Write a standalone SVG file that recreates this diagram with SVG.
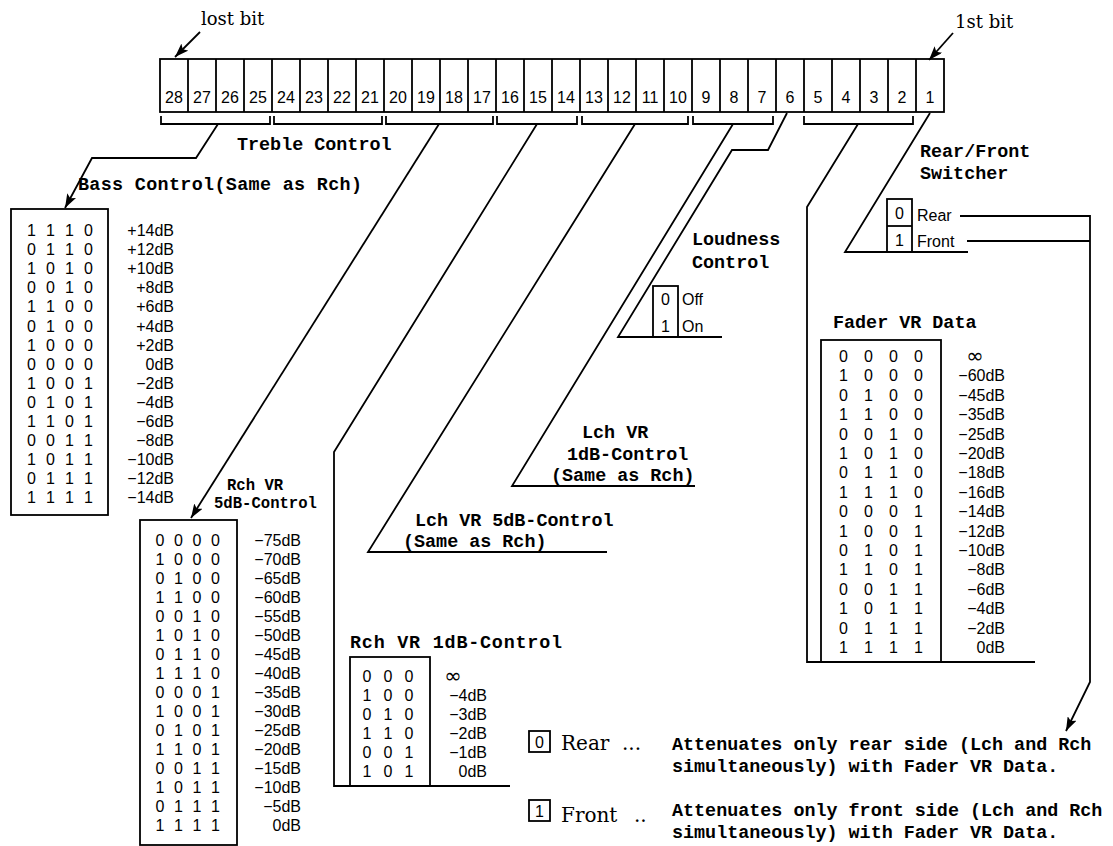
<svg xmlns="http://www.w3.org/2000/svg" width="1113" height="846" viewBox="0 0 1113 846">
<style>
.ln{stroke:#000;stroke-width:1.8;fill:none}
.bx{stroke:#000;stroke-width:1.8;fill:none}
.mono{font-family:"Liberation Mono","Courier New",monospace;font-size:18.4px;font-weight:bold;fill:#000}
.mono2{font-family:"Liberation Mono","Courier New",monospace;font-size:15.6px;font-weight:bold;fill:#000}
.sans{font-family:"Liberation Sans",Arial,sans-serif;font-size:16px;fill:#000}
.dg{font-family:"Liberation Sans",Arial,sans-serif;font-size:16px;fill:#000;text-anchor:middle}
.inf{font-family:"DejaVu Sans",sans-serif;font-size:21px;fill:#000;text-anchor:middle}
.val{font-family:"Liberation Sans",Arial,sans-serif;font-size:16px;fill:#000;text-anchor:end}
.serif{font-family:"DejaVu Serif","Liberation Serif",serif;font-size:18px;fill:#000}
.serif2{font-family:"DejaVu Serif","Liberation Serif",serif;font-size:20px;fill:#000}
</style>
<defs>
<marker id="ah" viewBox="0 0 14 10" refX="14" refY="5" markerWidth="14" markerHeight="10" orient="auto" markerUnits="userSpaceOnUse"><path d="M0,0 L14,5 L0,10 L3,5 z" fill="#000"/></marker>
</defs>
<rect width="1113" height="846" fill="#fff"/>

<g id="register">
<rect class="bx" x="160" y="59" width="784" height="53"/>
<path class="ln" d="M188,59V112M216,59V112M244,59V112M272,59V112M300,59V112M328,59V112M356,59V112M384,59V112M412,59V112M440,59V112M468,59V112M496,59V112M524,59V112M552,59V112M580,59V112M608,59V112M636,59V112M664,59V112M692,59V112M720,59V112M748,59V112M776,59V112M804,59V112M832,59V112M860,59V112M888,59V112M916,59V112"/>
<g class="dg">
<text x="174" y="103">28</text><text x="202" y="103">27</text><text x="230" y="103">26</text><text x="258" y="103">25</text>
<text x="286" y="103">24</text><text x="314" y="103">23</text><text x="342" y="103">22</text><text x="370" y="103">21</text>
<text x="398" y="103">20</text><text x="426" y="103">19</text><text x="454" y="103">18</text><text x="482" y="103">17</text>
<text x="510" y="103">16</text><text x="538" y="103">15</text><text x="566" y="103">14</text><text x="594" y="103">13</text>
<text x="622" y="103">12</text><text x="650" y="103">11</text><text x="678" y="103">10</text><text x="706" y="103">9</text>
<text x="734" y="103">8</text><text x="762" y="103">7</text><text x="790" y="103">6</text><text x="818" y="103">5</text>
<text x="846" y="103">4</text><text x="874" y="103">3</text><text x="902" y="103">2</text><text x="930" y="103">1</text>
</g>
<path class="ln" d="M161,116V124H270V116M274,116V124H382V116M386,116V124H493V116M497,116V124H577V116M582,116V124H688V116M693,116V124H773V116M804,116V124H913V116"/>
</g>

<g id="lost-bit">
<text class="serif" x="201" y="25">lost bit</text>
</g>
<g id="first-bit">
<text class="serif" x="955" y="28">1st bit</text>
</g>
<g id="treble-label">
<text class="mono" x="237" y="150">Treble Control</text>
</g>

<g id="connectors">
<path class="ln" d="M200,32L175,57" marker-end="url(#ah)"/>
<path class="ln" d="M953,33L929,60" marker-end="url(#ah)"/>
<path class="ln" d="M218,124L196,158H92L65,208" marker-end="url(#ah)"/>
<path class="ln" d="M439,124L191,518" marker-end="url(#ah)"/>
<path class="ln" d="M537,124L334,452V786H510"/>
<path class="ln" d="M635,124L368,552H607"/>
<path class="ln" d="M733,124L512,486H695"/>
<path class="ln" d="M787,113L768,150H732L618,337H722"/>
<path class="ln" d="M858,124L807,207V662H1035"/>
<path class="ln" d="M930,113L845,252H968"/>
<path class="ln" d="M960,216H1090V682L1066,731" marker-end="url(#ah)"/>
<path class="ln" d="M967,241H1090"/>
</g>

<g id="bass-control">
<text class="mono" x="78" y="190" textLength="284" lengthAdjust="spacing">Bass Control(Same as Rch)</text>
<rect class="bx" x="11" y="209" width="97" height="306"/>
<g class="dg">
<text x="31.5 41 50.5 60 69.5 79 88.5" y="236">1 1 1 0</text>
<text x="31.5 41 50.5 60 69.5 79 88.5" y="255.1">0 1 1 0</text>
<text x="31.5 41 50.5 60 69.5 79 88.5" y="274.2">1 0 1 0</text>
<text x="31.5 41 50.5 60 69.5 79 88.5" y="293.3">0 0 1 0</text>
<text x="31.5 41 50.5 60 69.5 79 88.5" y="312.4">1 1 0 0</text>
<text x="31.5 41 50.5 60 69.5 79 88.5" y="331.5">0 1 0 0</text>
<text x="31.5 41 50.5 60 69.5 79 88.5" y="350.6">1 0 0 0</text>
<text x="31.5 41 50.5 60 69.5 79 88.5" y="369.7">0 0 0 0</text>
<text x="31.5 41 50.5 60 69.5 79 88.5" y="388.8">1 0 0 1</text>
<text x="31.5 41 50.5 60 69.5 79 88.5" y="407.9">0 1 0 1</text>
<text x="31.5 41 50.5 60 69.5 79 88.5" y="427">1 1 0 1</text>
<text x="31.5 41 50.5 60 69.5 79 88.5" y="446.1">0 0 1 1</text>
<text x="31.5 41 50.5 60 69.5 79 88.5" y="465.2">1 0 1 1</text>
<text x="31.5 41 50.5 60 69.5 79 88.5" y="484.3">0 1 1 1</text>
<text x="31.5 41 50.5 60 69.5 79 88.5" y="503.4">1 1 1 1</text>
</g>
<g class="val">
<text x="174" y="236">+14dB</text><text x="174" y="255.1">+12dB</text><text x="174" y="274.2">+10dB</text>
<text x="174" y="293.3">+8dB</text><text x="174" y="312.4">+6dB</text><text x="174" y="331.5">+4dB</text>
<text x="174" y="350.6">+2dB</text><text x="174" y="369.7">0dB</text><text x="174" y="388.8">−2dB</text>
<text x="174" y="407.9">−4dB</text><text x="174" y="427">−6dB</text><text x="174" y="446.1">−8dB</text>
<text x="174" y="465.2">−10dB</text><text x="174" y="484.3">−12dB</text><text x="174" y="503.4">−14dB</text>
</g>
</g>

<g id="rch-5db">
<text class="mono2" x="227" y="490">Rch VR</text>
<text class="mono2" x="214" y="508">5dB-Control</text>
<rect class="bx" x="140" y="520" width="97" height="325"/>
<g class="dg">
<text x="160 169.25 178.5 187.75 197 206.25 215.5" y="546">0 0 0 0</text>
<text x="160 169.25 178.5 187.75 197 206.25 215.5" y="565">1 0 0 0</text>
<text x="160 169.25 178.5 187.75 197 206.25 215.5" y="584">0 1 0 0</text>
<text x="160 169.25 178.5 187.75 197 206.25 215.5" y="603">1 1 0 0</text>
<text x="160 169.25 178.5 187.75 197 206.25 215.5" y="622">0 0 1 0</text>
<text x="160 169.25 178.5 187.75 197 206.25 215.5" y="641">1 0 1 0</text>
<text x="160 169.25 178.5 187.75 197 206.25 215.5" y="660">0 1 1 0</text>
<text x="160 169.25 178.5 187.75 197 206.25 215.5" y="679">1 1 1 0</text>
<text x="160 169.25 178.5 187.75 197 206.25 215.5" y="698">0 0 0 1</text>
<text x="160 169.25 178.5 187.75 197 206.25 215.5" y="717">1 0 0 1</text>
<text x="160 169.25 178.5 187.75 197 206.25 215.5" y="736">0 1 0 1</text>
<text x="160 169.25 178.5 187.75 197 206.25 215.5" y="755">1 1 0 1</text>
<text x="160 169.25 178.5 187.75 197 206.25 215.5" y="774">0 0 1 1</text>
<text x="160 169.25 178.5 187.75 197 206.25 215.5" y="793">1 0 1 1</text>
<text x="160 169.25 178.5 187.75 197 206.25 215.5" y="812">0 1 1 1</text>
<text x="160 169.25 178.5 187.75 197 206.25 215.5" y="831">1 1 1 1</text>
</g>
<g class="val">
<text x="301" y="546">−75dB</text><text x="301" y="565">−70dB</text><text x="301" y="584">−65dB</text>
<text x="301" y="603">−60dB</text><text x="301" y="622">−55dB</text><text x="301" y="641">−50dB</text>
<text x="301" y="660">−45dB</text><text x="301" y="679">−40dB</text><text x="301" y="698">−35dB</text>
<text x="301" y="717">−30dB</text><text x="301" y="736">−25dB</text><text x="301" y="755">−20dB</text>
<text x="301" y="774">−15dB</text><text x="301" y="793">−10dB</text><text x="301" y="812">−5dB</text>
<text x="301" y="831">0dB</text>
</g>
</g>

<g id="lch-5db">
<text class="mono" x="415" y="526">Lch VR 5dB-Control</text>
<text class="mono" x="403" y="547">(Same as Rch)</text>
</g>

<g id="lch-1db">
<text class="mono" x="582" y="438">Lch VR</text>
<text class="mono" x="567" y="460">1dB-Control</text>
<text class="mono" x="551" y="481">(Same as Rch)</text>
</g>

<g id="loudness">
<text class="mono" x="692" y="245">Loudness</text>
<text class="mono" x="692" y="268">Control</text>
<rect class="bx" x="653" y="286" width="25" height="51"/>
<text class="dg" x="665.5" y="305">0</text>
<text class="dg" x="665.5" y="332">1</text>
<text class="sans" x="682" y="305">Off</text>
<text class="sans" x="682" y="332">On</text>
</g>

<g id="rch-1db">
<text class="mono" x="350" y="648" textLength="212" lengthAdjust="spacing">Rch VR 1dB-Control</text>
<rect class="bx" x="350" y="657" width="80" height="129"/>
<g class="dg">
<text x="367 377.5 388 398.5 409" y="682">0 0 0</text>
<text x="367 377.5 388 398.5 409" y="701">1 0 0</text>
<text x="367 377.5 388 398.5 409" y="720">0 1 0</text>
<text x="367 377.5 388 398.5 409" y="739">1 1 0</text>
<text x="367 377.5 388 398.5 409" y="758">0 0 1</text>
<text x="367 377.5 388 398.5 409" y="777">1 0 1</text>
</g>
<text class="inf" x="453" y="683">∞</text>
<g class="val">
<text x="487" y="701">−4dB</text><text x="487" y="720">−3dB</text><text x="487" y="739">−2dB</text>
<text x="487" y="758">−1dB</text><text x="487" y="777">0dB</text>
</g>
</g>

<g id="rear-front-switcher">
<text class="mono" x="920" y="157">Rear/Front</text>
<text class="mono" x="920" y="179">Switcher</text>
<rect class="bx" x="887" y="199" width="25" height="53"/>
<path class="ln" d="M887,226H912"/>
<text class="dg" x="899.5" y="219">0</text>
<text class="dg" x="899.5" y="246">1</text>
<text class="sans" x="917" y="221">Rear</text>
<text class="sans" x="917" y="247">Front</text>
</g>

<g id="fader">
<text class="mono" x="833" y="328">Fader VR Data</text>
<rect class="bx" x="821" y="340" width="120" height="322"/>
<g class="dg">
<text x="843.5 856 868.5 881 893.5 906 918.5" y="362">0 0 0 0</text>
<text x="843.5 856 868.5 881 893.5 906 918.5" y="381.4">1 0 0 0</text>
<text x="843.5 856 868.5 881 893.5 906 918.5" y="400.8">0 1 0 0</text>
<text x="843.5 856 868.5 881 893.5 906 918.5" y="420.2">1 1 0 0</text>
<text x="843.5 856 868.5 881 893.5 906 918.5" y="439.6">0 0 1 0</text>
<text x="843.5 856 868.5 881 893.5 906 918.5" y="459">1 0 1 0</text>
<text x="843.5 856 868.5 881 893.5 906 918.5" y="478.4">0 1 1 0</text>
<text x="843.5 856 868.5 881 893.5 906 918.5" y="497.8">1 1 1 0</text>
<text x="843.5 856 868.5 881 893.5 906 918.5" y="517.2">0 0 0 1</text>
<text x="843.5 856 868.5 881 893.5 906 918.5" y="536.6">1 0 0 1</text>
<text x="843.5 856 868.5 881 893.5 906 918.5" y="556">0 1 0 1</text>
<text x="843.5 856 868.5 881 893.5 906 918.5" y="575.4">1 1 0 1</text>
<text x="843.5 856 868.5 881 893.5 906 918.5" y="594.8">0 0 1 1</text>
<text x="843.5 856 868.5 881 893.5 906 918.5" y="614.2">1 0 1 1</text>
<text x="843.5 856 868.5 881 893.5 906 918.5" y="633.6">0 1 1 1</text>
<text x="843.5 856 868.5 881 893.5 906 918.5" y="653">1 1 1 1</text>
</g>
<text class="inf" x="975" y="363">∞</text>
<g class="val">
<text x="1005" y="381.4">−60dB</text><text x="1005" y="400.8">−45dB</text><text x="1005" y="420.2">−35dB</text>
<text x="1005" y="439.6">−25dB</text><text x="1005" y="459">−20dB</text><text x="1005" y="478.4">−18dB</text>
<text x="1005" y="497.8">−16dB</text><text x="1005" y="517.2">−14dB</text><text x="1005" y="536.6">−12dB</text>
<text x="1005" y="556">−10dB</text><text x="1005" y="575.4">−8dB</text><text x="1005" y="594.8">−6dB</text>
<text x="1005" y="614.2">−4dB</text><text x="1005" y="633.6">−2dB</text><text x="1005" y="653">0dB</text>
</g>
</g>

<g id="legend-rear">
<rect class="bx" x="529" y="731" width="21" height="21"/>
<text class="dg" x="539.5" y="747.5">0</text>
<text class="serif2" x="561" y="750">Rear</text>
<text class="serif2" x="622" y="750">...</text>
<text class="mono" x="672" y="750">Attenuates only rear side (Lch and Rch</text>
<text class="mono" x="672" y="772">simultaneously) with Fader VR Data.</text>
</g>
<g id="legend-front">
<rect class="bx" x="529" y="800" width="21" height="21"/>
<text class="dg" x="539.5" y="816.5">1</text>
<text class="serif2" x="561" y="822">Front</text>
<text class="serif2" x="634" y="822">..</text>
<text class="mono" x="672" y="816">Attenuates only front side (Lch and Rch</text>
<text class="mono" x="672" y="838">simultaneously) with Fader VR Data.</text>
</g>
</svg>
